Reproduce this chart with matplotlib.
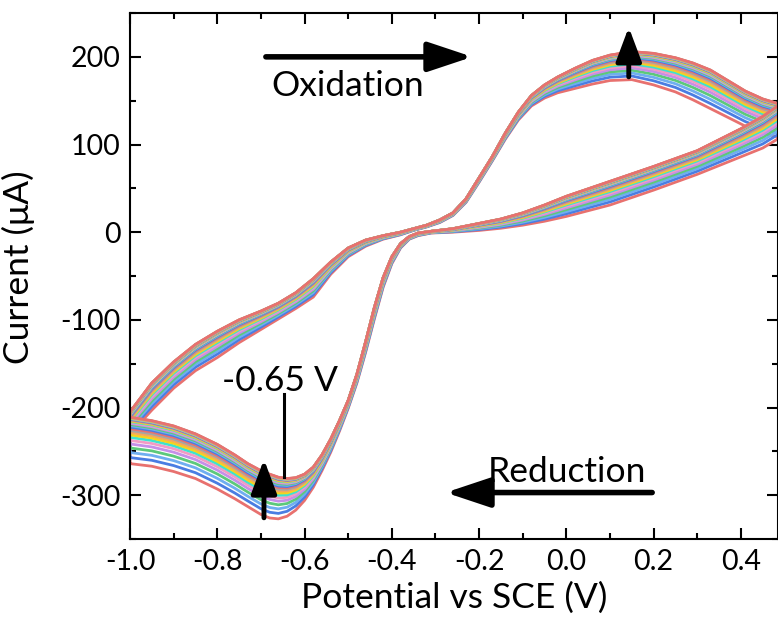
import numpy as np
import matplotlib.pyplot as plt
from matplotlib.ticker import MultipleLocator

plt.rcParams['font.family'] = ['Lato', 'DejaVu Sans']

# forward sweep (-1.0 V -> 0.49 V): reduction dip, steep rise, shallow line
E_fwd = [-1.0, -0.95, -0.90, -0.85, -0.80, -0.76, -0.73, -0.70, -0.68, -0.66,
         -0.64, -0.62, -0.60, -0.58, -0.56, -0.54, -0.52, -0.50, -0.48, -0.46,
         -0.44, -0.42, -0.40, -0.38, -0.36, -0.34, -0.31, -0.26, -0.20, -0.15,
         -0.10, -0.05, 0.0, 0.10, 0.20, 0.30, 0.40, 0.45, 0.49]
I_fwd_first = [-264, -267, -273, -281, -293, -304, -313, -322, -326, -327,
               -324, -317, -306, -291, -272, -251, -227, -201, -172, -137,
               -99, -63, -36, -18, -8, -4, -1, 0, 2, 4.5,
               8, 12.5, 18, 31, 48, 66, 86, 96, 108]
I_fwd_last = [-211, -215, -221, -230, -242, -254, -264, -272, -276, -279.5,
              -281, -280, -276, -268, -254, -236, -215, -192, -162, -125,
              -86, -52, -28, -13, -5, -1, 1, 4, 10, 15,
              22, 31, 41, 58, 75, 93, 118, 132, 146]

# reverse sweep (0.49 V -> -1.0 V): oxidation hump, then upper left branch
E_rev = [0.49, 0.45, 0.41, 0.37, 0.33, 0.29, 0.25, 0.20, 0.15, 0.10,
         0.06, 0.02, -0.02, -0.05, -0.08, -0.11, -0.14, -0.17, -0.20, -0.23,
         -0.26, -0.29, -0.32, -0.35, -0.38, -0.42, -0.46, -0.50, -0.54, -0.58,
         -0.62, -0.66, -0.70, -0.75, -0.80, -0.85, -0.90, -0.95, -1.0]
I_rev_first = [108, 113, 121, 131, 141, 151, 160, 168, 174, 173,
               169, 164, 159, 153, 144, 128, 106, 81, 57, 34,
               19, 11, 6, 2, -3, -8, -16, -28, -48, -74,
               -87, -99, -111, -126, -143, -158, -178, -203, -230]
I_rev_last = [146, 152, 161, 173, 185, 193, 199, 204, 206, 202,
              196, 187, 177, 168, 156, 137, 113, 86, 62, 38,
              22, 14, 8, 4, 0, -4, -9, -18, -34, -53,
              -69, -81, -90, -100, -113, -128, -148, -172, -205]

# reduction peak current of each cycle (uA), cycle 1 -> 31
red_peak = [-327, -321, -316, -311.5, -307.5, -304, -301, -298.5, -296.2, -294.2,
            -292.4, -290.8, -289.4, -288.2, -287.1, -286.2, -285.4, -284.7, -284.1, -283.6,
            -283.2, -282.9, -282.6, -282.4, -282.2, -282.0, -281.8, -281.6, -281.4, -281.2,
            -281.0]

colors = ['#E8716F', '#4A7DE2', '#6FAEF0', '#5CC97B', '#C58FE8',
          '#F29BC4', '#3EE2CF', '#F5D31F', '#F4A95C', '#A5A5A5']

fig = plt.figure(figsize=(7.78, 6.17), dpi=100)
ax = fig.add_axes([0.1671, 0.1264, 0.8329, 0.8525])

E_loop = np.concatenate([E_fwd, E_rev, E_fwd[:1]])
for k, peak in enumerate(red_peak):
    w = (peak - red_peak[0]) / (red_peak[-1] - red_peak[0])
    i_f = np.array(I_fwd_first) + w * (np.array(I_fwd_last) - np.array(I_fwd_first))
    i_r = np.array(I_rev_first) + w * (np.array(I_rev_last) - np.array(I_rev_first))
    I_loop = np.concatenate([i_f, i_r, i_f[:1]])
    ax.plot(E_loop, I_loop, color=colors[k % len(colors)], lw=2.0,
            solid_joinstyle='round')

ax.set_xlim(-1.0, 0.485)
ax.set_ylim(-350, 250)
ax.xaxis.set_minor_locator(MultipleLocator(0.1))
ax.yaxis.set_minor_locator(MultipleLocator(50))
ax.set_xticks([-1.0, -0.8, -0.6, -0.4, -0.2, 0.0, 0.2, 0.4])
ax.set_xticklabels(['-1.0', '-0.8', '-0.6', '-0.4', '-0.2', '0.0', '0.2', '0.4'])
ax.set_yticks([-300, -200, -100, 0, 100, 200])
ax.set_yticklabels(['-300', '-200', '-100', '0', '100', '200'])
ax.tick_params(which='both', direction='in', top=True, right=True, width=1.5,
               labelsize=20.5, pad=7)
ax.tick_params(which='major', length=8)
ax.tick_params(which='minor', length=4.5)
for s in ax.spines.values():
    s.set_linewidth(1.5)

ax.set_xlabel('Potential vs SCE (V)', fontsize=25.5, labelpad=5)
ax.set_ylabel('Current (μA)', fontsize=25.5)
ax.yaxis.set_label_coords(-0.147, 0.517)

# sweep direction arrows
ax.annotate('', xy=(-0.209, 200), xytext=(-0.695, 200),
            arrowprops=dict(arrowstyle='-|>,head_length=0.9,head_width=0.3',
                            color='k', lw=4, mutation_scale=30))
ax.text(-0.675, 155, 'Oxidation', fontsize=25.5, va='baseline', ha='left')
ax.annotate('', xy=(-0.283, -297), xytext=(0.203, -297),
            arrowprops=dict(arrowstyle='-|>,head_length=0.9,head_width=0.3',
                            color='k', lw=4, mutation_scale=30))
ax.text(-0.180, -284.7, 'Reduction', fontsize=25.5, va='baseline', ha='left')

# peak growth arrows
ax.annotate('', xy=(0.143, 237), xytext=(0.143, 174),
            arrowprops=dict(arrowstyle='-|>,head_length=0.8,head_width=0.3',
                            color='k', lw=3.5, mutation_scale=26))
ax.annotate('', xy=(-0.693, -256), xytext=(-0.693, -329),
            arrowprops=dict(arrowstyle='-|>,head_length=0.8,head_width=0.3',
                            color='k', lw=3.5, mutation_scale=26))

# peak potential marker
ax.plot([-0.647, -0.647], [-184.5, -279], color='k', lw=2.2)
ax.text(-0.789, -181, '-0.65 V', fontsize=25.5, va='baseline', ha='left')

plt.savefig('out.png', dpi=100)
